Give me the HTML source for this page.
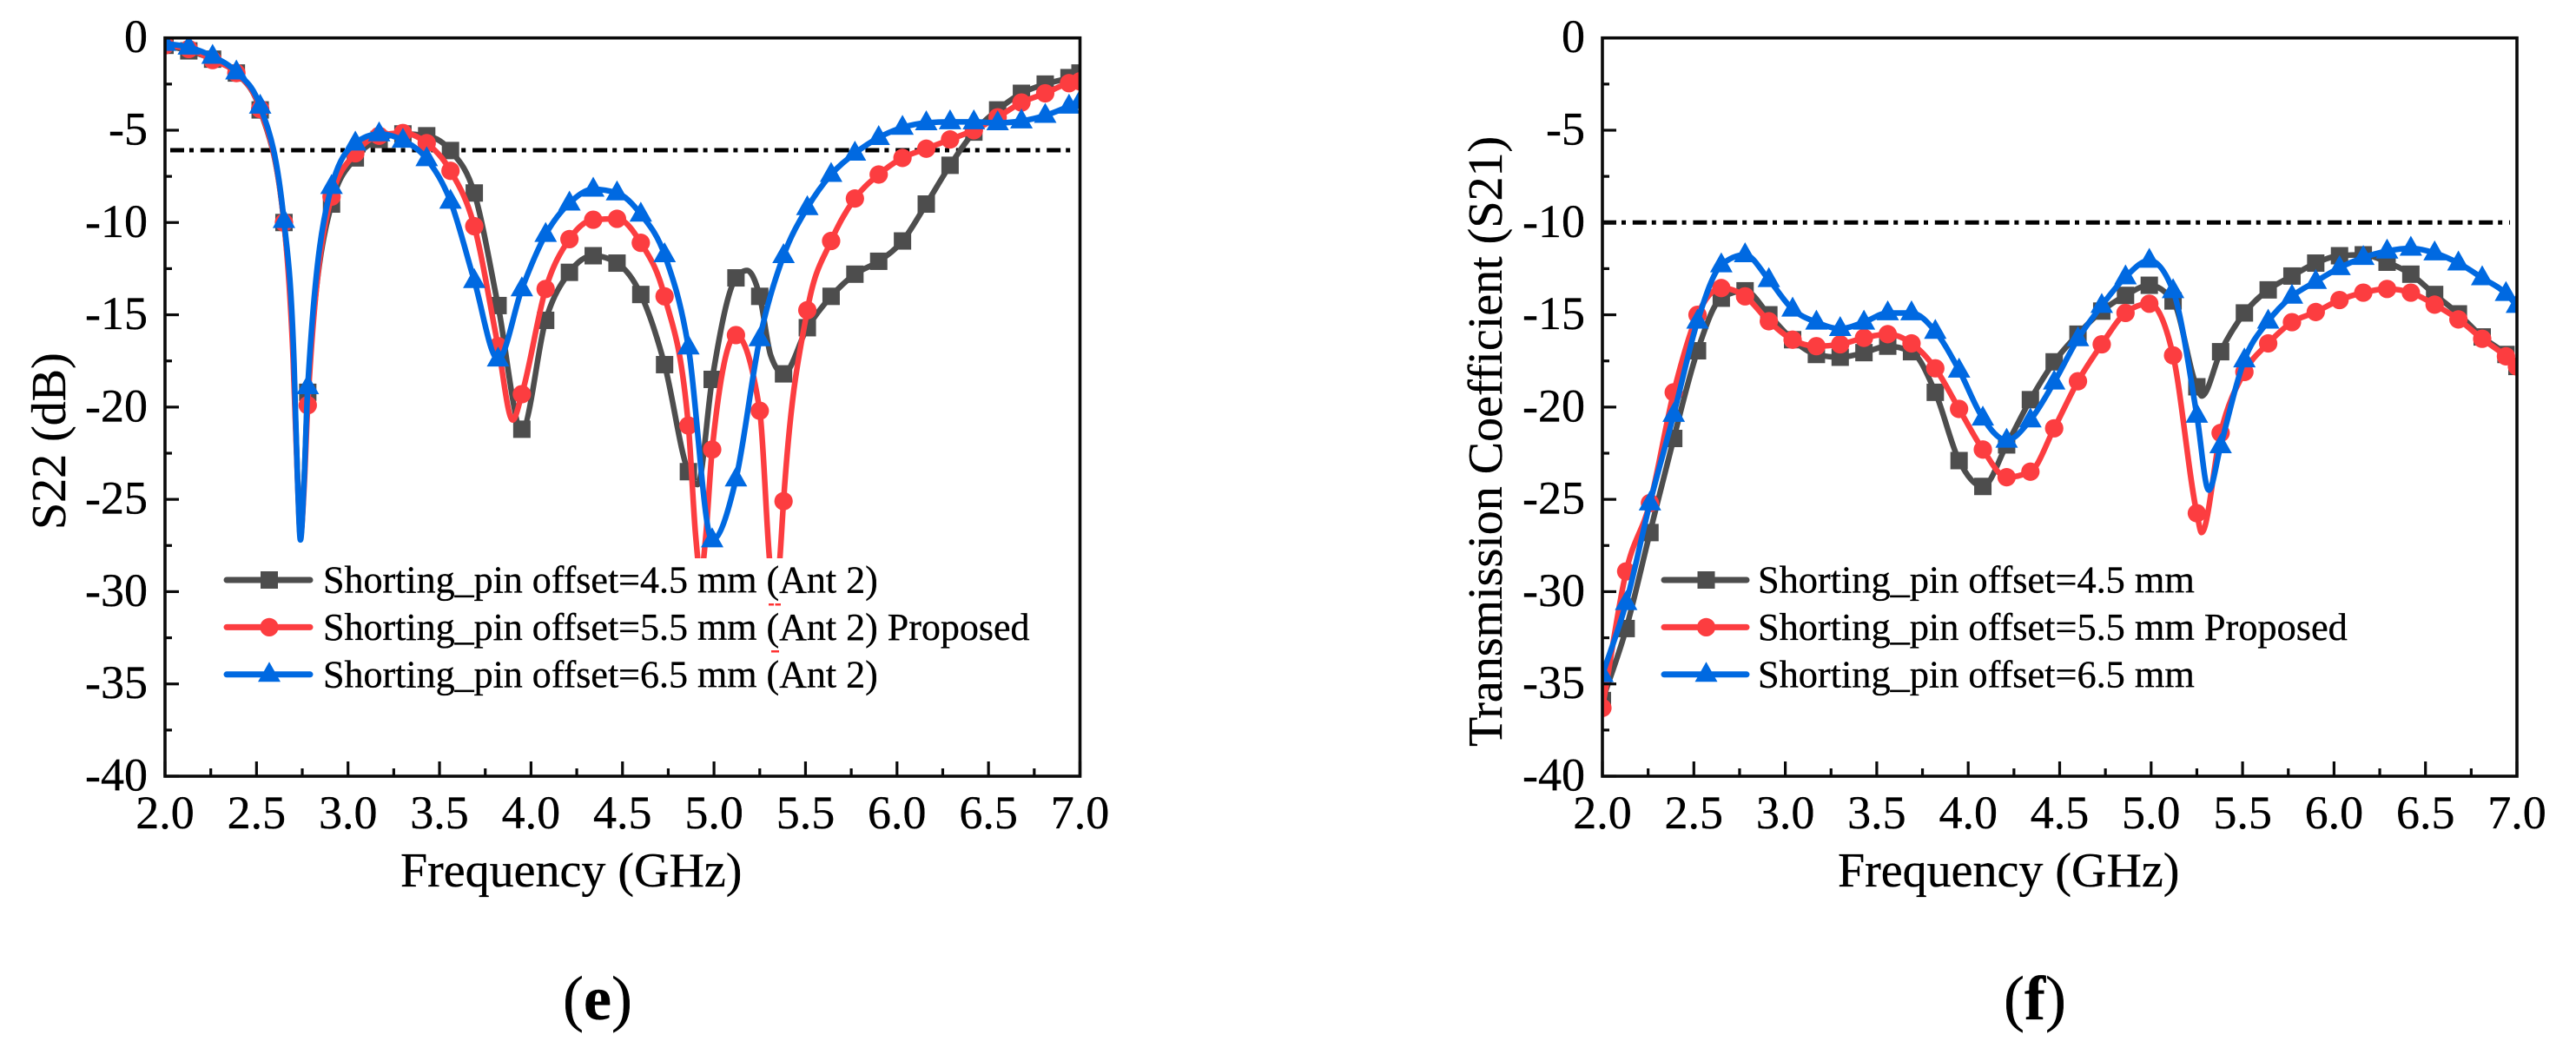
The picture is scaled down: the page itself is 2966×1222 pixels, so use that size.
<!DOCTYPE html>
<html lang="en">
<head>
<meta charset="utf-8">
<title>S22 and S21 versus frequency for shorting pin offsets</title>
<style>
html,body{margin:0;padding:0;background:#fff;}
svg{display:block;}
text{font-family:"Liberation Serif","Noto Serif CJK SC",serif;fill:#000;stroke:#000;stroke-width:0.35px;}
</style>
</head>
<body>
<svg id="figure" xmlns="http://www.w3.org/2000/svg" width="2966" height="1222" viewBox="0 0 2966 1222">
<rect x="0" y="0" width="2966" height="1222" fill="#fff"/>
</svg>
<script>
const markerFreq = [
  2.00,2.13,2.26,2.39,2.52,2.65,2.78,2.91,3.04,3.17,
  3.30,3.43,3.56,3.69,3.82,3.95,4.08,4.21,4.34,4.47,
  4.60,4.73,4.86,4.99,5.12,5.25,5.38,5.51,5.64,5.77,
  5.90,6.03,6.16,6.29,6.42,6.55,6.68,6.81,6.94,7.00
];
const xTickLabels = ["2.0","2.5","3.0","3.5","4.0","4.5","5.0","5.5","6.0","6.5","7.0"];
const xTickValues = [2,2.5,3,3.5,4,4.5,5,5.5,6,6.5,7];
const xMinorValues = [2.25,2.75,3.25,3.75,4.25,4.75,5.25,5.75,6.25,6.75];
const yTickLabels = ["0","-5","-10","-15","-20","-25","-30","-35","-40"];
const yTickValues = [0,-5,-10,-15,-20,-25,-30,-35,-40];
const yMinorValues = [-2.5,-7.5,-12.5,-17.5,-22.5,-27.5,-32.5,-37.5];

const s22Offset45 = [
  -0.4,-0.7,-1.15,-1.9,-3.9,-10,-19.2,-9,-6.5,-5.5,
  -5.2,-5.3,-6.1,-8.4,-14.5,-21.2,-15.3,-12.7,-11.8,-12.2,
  -13.9,-17.7,-23.5,-18.5,-13,-14,-18.2,-15.7,-14,-12.8,
  -12.1,-11,-9,-6.9,-5.1,-3.9,-3,-2.5,-2.15,-1.9
];
const s22Offset55 = [
  -0.4,-0.6,-1.2,-1.9,-3.85,-10,-19.9,-8.6,-6.25,-5.3,
  -5.15,-5.7,-7.2,-10.2,-16.7,-19.3,-13.6,-10.9,-9.85,-9.8,
  -11.1,-14,-21,-22.3,-16.1,-20.2,-25.1,-14.75,-11,-8.7,
  -7.4,-6.5,-6,-5.5,-5,-4.3,-3.5,-3,-2.45,-2.35
];
const s22Offset65 = [
  -0.3,-0.5,-1,-1.85,-3.7,-9.9,-18.9,-8.05,-5.7,-5.2,
  -5.55,-6.55,-8.85,-13.15,-17.4,-13.6,-10.65,-8.95,-8.2,-8.4,
  -9.55,-11.75,-16.75,-27.2,-23.9,-16.3,-11.8,-9.2,-7.4,-6.25,
  -5.4,-4.85,-4.6,-4.55,-4.55,-4.6,-4.5,-4.2,-3.7,-3.45
];
const s22Extra45 = [[2.70,-17],[2.725,-24],[2.74,-27],[2.76,-24],[4.91,-24.2],[5.18,-12.6],[5.31,-17.2]];
const s22Extra55 = [[2.70,-17.4],[2.725,-24.2],[2.74,-27],[2.76,-24.4],[3.90,-20.7],[4.90,-27],[4.927,-29.2],[4.955,-27],[5.303,-28.2],[5.332,-31],[5.36,-28.2]];
const s22Extra65 = [[2.705,-17.6],[2.725,-24.2],[2.74,-27.2],[2.76,-24]];
const s22Threshold = -6.08;

const s21Offset45 = [
  -35.9,-32,-26.8,-21.7,-16.95,-14.1,-13.7,-15,-16.35,-17.15,
  -17.3,-17.05,-16.7,-17,-19.2,-22.9,-24.3,-22.05,-19.6,-17.55,
  -16.05,-14.8,-13.95,-13.4,-14.25,-18.9,-17,-14.9,-13.65,-12.9,
  -12.2,-11.8,-11.75,-12.15,-12.8,-13.9,-14.95,-16.2,-17.15,-17.8
];
const s21Offset55 = [
  -36.3,-28.9,-25.2,-19.2,-15,-13.55,-14,-15.35,-16.35,-16.7,
  -16.6,-16.25,-16.05,-16.55,-17.9,-20.1,-22.3,-23.8,-23.5,-21.15,
  -18.6,-16.6,-14.9,-14.4,-17.2,-25.75,-21.4,-18.1,-16.55,-15.4,
  -14.85,-14.2,-13.8,-13.6,-13.8,-14.45,-15.25,-16.3,-17.25,-17.8
];
const s21Offset65 = [
  -34.5,-30.6,-25.2,-20.4,-15.35,-12.3,-11.75,-13.1,-14.7,-15.4,
  -15.75,-15.4,-14.9,-14.9,-15.9,-18,-20.6,-21.8,-20.7,-18.65,
  -16.3,-14.5,-12.95,-12.05,-13.7,-20.45,-22.1,-17.45,-15.35,-14,
  -13.2,-12.45,-11.9,-11.55,-11.4,-11.65,-12.2,-13,-13.85,-14.5
];
const s21Extra45 = [[5.277,-19.4]];
const s21Extra55 = [[5.276,-26.8]];
const s21Extra65 = [[5.315,-24.5]];
const s21Threshold = -10;

const legendLabelsLeft = [
  "Shorting_pin offset=4.5 mm (Ant 2)",
  "Shorting_pin offset=5.5 mm (Ant 2) Proposed",
  "Shorting_pin offset=6.5 mm (Ant 2)"
];
const legendLabelsRight = [
  "Shorting_pin offset=4.5 mm",
  "Shorting_pin offset=5.5 mm Proposed",
  "Shorting_pin offset=6.5 mm"
];

const NS = "http://www.w3.org/2000/svg";
const root = document.getElementById("figure");
const COLORS = ["#4d4d4d", "#fc3d40", "#0069e1"];
const SHAPES = ["square", "circle", "triangle"];
const SERIES_NAMES = ["offset-4-5", "offset-5-5", "offset-6-5"];

function make(parent, tag, attrs) {
  const node = document.createElementNS(NS, tag);
  for (const key in attrs) node.setAttribute(key, attrs[key]);
  parent.appendChild(node);
  return node;
}

function monotonePath(points, sx, sy) {
  const xs = points.map(p => sx(p[0]));
  const ys = points.map(p => sy(p[1]));
  const n = xs.length;
  const slopes = [];
  for (let i = 0; i < n - 1; i++) slopes.push((ys[i + 1] - ys[i]) / (xs[i + 1] - xs[i]));
  const t = [slopes[0]];
  for (let i = 1; i < n - 1; i++) {
    if (slopes[i - 1] * slopes[i] <= 0) { t.push(0); continue; }
    const h0 = xs[i] - xs[i - 1];
    const h1 = xs[i + 1] - xs[i];
    const p = (slopes[i - 1] * h1 + slopes[i] * h0) / (h0 + h1);
    t.push(Math.sign(slopes[i]) * Math.min(Math.abs(slopes[i - 1]), Math.abs(slopes[i]), 0.5 * Math.abs(p)) * 2);
  }
  t.push(slopes[n - 2]);
  let d = "M" + xs[0].toFixed(2) + " " + ys[0].toFixed(2);
  for (let i = 0; i < n - 1; i++) {
    const h = (xs[i + 1] - xs[i]) / 3;
    d += "C" + (xs[i] + h).toFixed(2) + " " + (ys[i] + t[i] * h).toFixed(2) + " " +
         (xs[i + 1] - h).toFixed(2) + " " + (ys[i + 1] - t[i + 1] * h).toFixed(2) + " " +
         xs[i + 1].toFixed(2) + " " + ys[i + 1].toFixed(2);
  }
  return d;
}

function drawMarker(parent, shape, cx, cy, color) {
  if (shape === "square") {
    return make(parent, "rect", { x: cx - 10, y: cy - 10, width: 20, height: 20, fill: color });
  }
  if (shape === "circle") {
    return make(parent, "circle", { cx: cx, cy: cy, r: 10.6, fill: color });
  }
  return make(parent, "polygon", {
    points: cx + "," + (cy - 14.5) + " " + (cx + 13) + "," + (cy + 8.5) + " " + (cx - 13) + "," + (cy + 8.5),
    fill: color
  });
}

function drawChart(cfg) {
  const g = make(root, "g", {});
  
  

  const sx = f => cfg.left + (f - 2) / 5 * (cfg.right - cfg.left);
  const sy = v => cfg.top + (-v) / 40 * (cfg.bottom - cfg.top);

  const clipId = cfg.name + "-clip";
  const defs = make(g, "defs", {});
  const clip = make(defs, "clipPath", { id: clipId });
  make(clip, "rect", { x: cfg.left, y: cfg.top, width: cfg.right - cfg.left, height: cfg.bottom - cfg.top });

  // threshold line
  const th = make(g, "line", {
    x1: cfg.thresholdStart, x2: cfg.thresholdEnd, y1: sy(cfg.threshold), y2: sy(cfg.threshold),
    stroke: "#000", "stroke-width": 5, "stroke-dasharray": "16 6 5 7.8"
  });
  
  

  // series
  const plot = make(g, "g", { "clip-path": "url(#" + clipId + ")" });
  
  

  cfg.series.forEach((values, s) => {
    const sg = make(plot, "g", {});
    
    
    const pts = markerFreq.map((f, i) => [f, values[i]]).concat(cfg.extras[s]).sort((a, b) => a[0] - b[0]);
    const path = make(sg, "path", {
      d: monotonePath(pts, sx, sy), fill: "none", stroke: COLORS[s],
      "stroke-width": 6.5, "stroke-linejoin": "round", "stroke-linecap": "round"
    });
    
    
    markerFreq.forEach((f, i) => {
      const m = drawMarker(sg, SHAPES[s], sx(f), sy(values[i]), COLORS[s]);
      
      
    });
  });

  // legend
  const lg = make(g, "g", {});
  
  
  const bg = make(lg, "rect", { x: cfg.legendLine[0] - 6, y: 643, width: cfg.legendWidth, height: 166, fill: "#fff" });
  
  
  cfg.legendLabels.forEach((label, i) => {
    const y = 668 + i * 54.4;
    const l = make(lg, "line", {
      x1: cfg.legendLine[0], x2: cfg.legendLine[1], y1: y, y2: y,
      stroke: COLORS[i], "stroke-width": 7, "stroke-linecap": "round"
    });
    
    
    const m = drawMarker(lg, SHAPES[i], (cfg.legendLine[0] + cfg.legendLine[1]) / 2 + 1, y, COLORS[i]);
    
    
    const t = make(lg, "text", { x: cfg.legendText, y: y + 14.5, "font-size": cfg.legendFont });
    t.textContent = label;
    
    
  });

  // frame
  const frame = make(g, "rect", {
    x: cfg.left, y: cfg.top, width: cfg.right - cfg.left, height: cfg.bottom - cfg.top,
    fill: "none", stroke: "#0a0a0a", "stroke-width": 3.6
  });
  
  

  // ticks
  yTickValues.forEach((v, i) => {
    const tick = make(g, "line", { x1: cfg.left, x2: cfg.left + 16, y1: sy(v), y2: sy(v), stroke: "#0a0a0a", "stroke-width": 3.2 });
    
    
    const t = make(g, "text", { x: cfg.left - 20, y: sy(v) + 16.5, "font-size": 54, "text-anchor": "end" });
    t.textContent = yTickLabels[i];
    
    
  });
  yMinorValues.forEach(v => {
    const tick = make(g, "line", { x1: cfg.left, x2: cfg.left + 8, y1: sy(v), y2: sy(v), stroke: "#0a0a0a", "stroke-width": 3.2 });
    
    
  });
  xTickValues.forEach((v, i) => {
    const tick = make(g, "line", { x1: sx(v), x2: sx(v), y1: cfg.bottom, y2: cfg.bottom - 17, stroke: "#0a0a0a", "stroke-width": 3.2 });
    
    
    const t = make(g, "text", { x: sx(v), y: 954, "font-size": 54, "text-anchor": "middle" });
    t.textContent = xTickLabels[i];
    
    
  });
  xMinorValues.forEach(v => {
    const tick = make(g, "line", { x1: sx(v), x2: sx(v), y1: cfg.bottom, y2: cfg.bottom - 9, stroke: "#0a0a0a", "stroke-width": 3.2 });
    
    
  });

  // titles
  const xt = make(g, "text", { x: cfg.xTitleX, y: 1021, "font-size": 56 });
  xt.textContent = "Frequency (GHz)";
  
  
  const yt = make(g, "text", {
    x: 0, y: 0, "font-size": 56,
    transform: "translate(" + cfg.yTitleX + " " + cfg.yTitleY + ") rotate(-90)"
  });
  yt.textContent = cfg.yTitle;
  
  

  // panel caption
  const cap = make(g, "text", { x: cfg.captionX, y: 1174, "font-size": 72 });
  
  
  cap.appendChild(document.createTextNode("("));
  const bold = make(cap, "tspan", { "font-weight": "bold" });
  bold.textContent = cfg.caption;
  cap.appendChild(document.createTextNode(")"));
  return g;
}

const chartE = drawChart({
  name: "chart-s22",
  left: 190, right: 1243.5, top: 43.7, bottom: 894,
  threshold: s22Threshold, thresholdStart: 196, thresholdEnd: 1236,
  series: [s22Offset45, s22Offset55, s22Offset65],
  extras: [s22Extra45, s22Extra55, s22Extra65],
  legendLabels: legendLabelsLeft, legendLine: [261, 357], legendText: 372, legendFont: 44, legendWidth: 940,
  xTitleX: 461, yTitleX: 75, yTitleY: 610, yTitle: "S22 (dB)",
  captionX: 648, caption: "e"
});

const chartF = drawChart({
  name: "chart-s21",
  left: 1845, right: 2898, top: 43.7, bottom: 894,
  threshold: s21Threshold, thresholdStart: 1845, thresholdEnd: 2890,
  series: [s21Offset45, s21Offset55, s21Offset65],
  extras: [s21Extra45, s21Extra55, s21Extra65],
  legendLabels: legendLabelsRight, legendLine: [1916, 2011], legendText: 2024, legendFont: 44.3, legendWidth: 800,
  xTitleX: 2116, yTitleX: 1729, yTitleY: 860, yTitle: "Transmission Coefficient (S21)",
  captionX: 2307, caption: "f"
});

// small red underline marks below the legend parentheses
const spellMark1 = make(chartE, "rect", { x: 885, y: 695, width: 6, height: 2.5, fill: "#f33" });


const spellMark2 = make(chartE, "rect", { x: 892.5, y: 695, width: 6.5, height: 2.5, fill: "#f33" });


const spellMark3 = make(chartE, "rect", { x: 888, y: 749, width: 9, height: 2.5, fill: "#f33" });


</script>
</body>
</html>
